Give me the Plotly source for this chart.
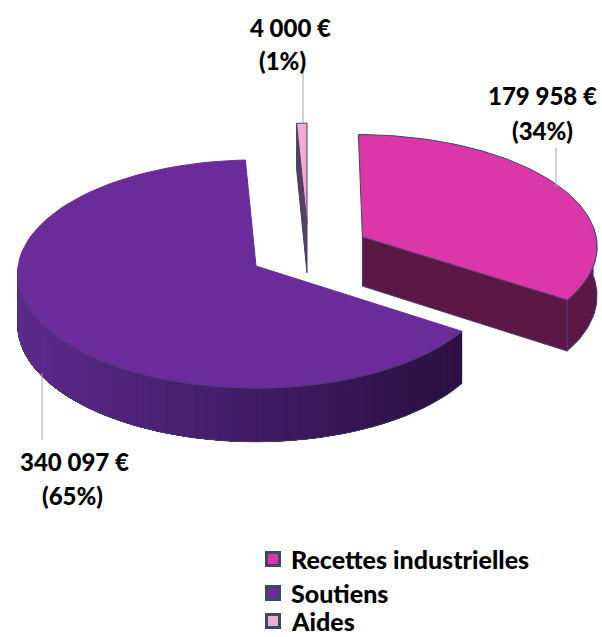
import numpy as np
import plotly.graph_objects as go

# ---- data ----
categories = ["Recettes industrielles", "Soutiens", "Aides"]
values = [179958, 340097, 4000]

# ---- style ----
top_colors = ["#DB37A8", "#6C2B9A", "#F5AAD2"]
face_colors = ["#5C1844", "#2A1040", "#54405F"]
edge_color = "#45406A"
leader_color = "#A6A6A6"
legend_edge = "#3A4A63"
FONT = "Lato, Carlito, Calibri, sans-serif"

W, H = 602, 637
VX, VY = 256, 266      # projection centre
A, B, K = 238, 113.5, 0.07
DEPTH = 50
# per slice: projection x, exploded offset in the pie plane
slice_vx = [300, 256, 307]
slice_off = [(0.267, -0.26), (0.0, 0.0), (0.0, -0.38)]
SILHOUETTE = np.deg2rad(266)  # left-most point of the projected rim

total = sum(values)
bounds = np.concatenate([[0], np.cumsum(values)]) / total * 2 * np.pi


def project(t, i, r=1.0, drop=0.0):
    ox, oy = slice_off[i]
    X = ox + r * np.sin(t)
    Y = oy - r * np.cos(t)
    s = 1 / (1 - K * Y)
    return slice_vx[i] + A * X * s, VY + B * Y * s + drop * s


def poly(xs, ys, fill, line=None, width=1):
    return go.Scatter(
        x=list(xs), y=list(ys), mode="lines", fill="toself", fillcolor=fill,
        line=dict(color=line or fill, width=width), hoverinfo="skip", showlegend=False,
    )


def mix(c1, c2, f):
    a = [int(c1[j:j + 2], 16) for j in (1, 3, 5)]
    b = [int(c2[j:j + 2], 16) for j in (1, 3, 5)]
    return "rgb(%d,%d,%d)" % tuple(round(p + (q - p) * f) for p, q in zip(a, b))


fig = go.Figure()


def arc(t0, t1, i, drop=0.0, n=80):
    return project(np.linspace(t0, t1, n), i, 1.0, drop)


def wall_segments(t0, t1, i, c_right, c_left, n):
    # bands of equal screen width, each painted from its edge to the far end
    # so that the next band overlaps it and no seam shows
    tt = np.linspace(t0, t1, 800)
    xx = project(tt, i)[0]
    grid = np.linspace(xx[0], xx[-1], n + 1)
    ts = np.interp(-grid, -xx, tt)
    for j in range(n):
        tx, ty = arc(ts[j], t1, i, 0, 50)
        bx, by = arc(ts[j], t1, i, DEPTH, 50)
        xs = np.concatenate([tx, bx[::-1]])
        ys = np.concatenate([ty, by[::-1]])
        fig.add_trace(poly(xs, ys, mix(c_right, c_left, j / (n - 1)), width=0))


# Soutiens: curved outer wall with a left-to-right shading
s0, s1 = bounds[1], bounds[2]
wall_segments(s0, SILHOUETTE, 1, face_colors[1], "#5A2A8C", 60)
bx, by = arc(s0, SILHOUETTE, 1, DEPTH)
fig.add_trace(go.Scatter(x=bx, y=by, mode="lines", line=dict(color=edge_color, width=0.8),
                         hoverinfo="skip", showlegend=False))
fx, fy = arc(s0, s1, 1)
ax, ay = project(np.array([0.0]), 1, 0.0)
fig.add_trace(poly(np.r_[ax, fx, ax], np.r_[ay, fy, ay], top_colors[1], top_colors[1], 1))
vx_, vy_ = arc(s0, SILHOUETTE, 1)
fig.add_trace(go.Scatter(x=vx_, y=vy_, mode="lines", line=dict(color=edge_color, width=1),
                         hoverinfo="skip", showlegend=False))

# Recettes: radial face, outer wall, top
r0, r1 = bounds[0], bounds[1]
ax, ay = project(np.array([0.0]), 0, 0.0)
ex, ey = project(np.array([r1]), 0)
ax2, ay2 = project(np.array([0.0]), 0, 0.0, DEPTH)
ex2, ey2 = project(np.array([r1]), 0, 1.0, DEPTH)
tx, ty = arc(np.deg2rad(85), r1, 0, 0, 30)
bx, by = arc(np.deg2rad(85), r1, 0, DEPTH, 30)
fig.add_trace(poly(np.r_[tx, bx[::-1]], np.r_[ty, by[::-1]], face_colors[0], edge_color, 1))
fig.add_trace(poly(np.r_[ax, ex, ex2, ax2, ax], np.r_[ay, ey, ey2, ay2, ay], face_colors[0], edge_color, 1))
fx, fy = arc(r0, r1, 0)
fig.add_trace(poly(np.r_[ax, fx, ax], np.r_[ay, fy, ay], top_colors[0], edge_color, 1))

# Aides: left radial face then top
a0, a1 = bounds[2], bounds[3]
ax, ay = project(np.array([0.0]), 2, 0.0)
lx, ly = project(np.array([a0]), 2)
ax2, ay2 = project(np.array([0.0]), 2, 0.0, DEPTH)
lx2, ly2 = project(np.array([a0]), 2, 1.0, DEPTH)
fig.add_trace(poly(np.r_[lx, ax, ax2, lx2, lx], np.r_[ly, ay, ay2, ly2, ly], face_colors[2], edge_color, 1))
fx, fy = arc(a0, a1, 2, 0, 8)
fig.add_trace(poly(np.r_[ax, fx, ax], np.r_[ay, fy, ay], top_colors[2], edge_color, 1))

# leader lines
leaders = [((556, 556), (148, 187)), ((42, 42), (373, 440)), ((303, 303), (72, 123))]
for lxs, lys in leaders:
    fig.add_trace(go.Scatter(x=lxs, y=lys, mode="lines", line=dict(color=leader_color, width=1),
                             hoverinfo="skip", showlegend=False))

# value labels
label_pos = [((542, 95), (542, 130)), ((74, 461), (72, 495)), ((290, 27), (282, 60))]
annots = []
for v, (p1, p2) in zip(values, label_pos):
    t1 = f"{v:,}".replace(",", " ") + " €"
    t2 = f"({round(v / total * 100)}%)"
    for txt, (x, y) in ((t1, p1), (t2, p2)):
        annots.append(dict(x=x, y=y, text=txt, showarrow=False, xref="x", yref="y",
                           font=dict(family=FONT, size=24, color="#000000", weight=900),
                           xanchor="center", yanchor="middle"))

# legend
legend_x = 273
legend_y = [559, 593, 621]
for name, col, ly_ in zip(categories, top_colors, legend_y):
    fig.add_trace(go.Scatter(
        x=[legend_x], y=[ly_], mode="markers", hoverinfo="skip", showlegend=False,
        marker=dict(symbol="square", size=13, color=col, line=dict(color=legend_edge, width=3)),
    ))
    annots.append(dict(x=legend_x + 16, y=ly_, text=name, showarrow=False, xref="x", yref="y",
                       font=dict(family=FONT, size=25, color="#000000", weight=900),
                       xanchor="left", yanchor="middle"))

fig.update_layout(
    width=W, height=H, margin=dict(l=0, r=0, t=0, b=0),
    paper_bgcolor="white", plot_bgcolor="white", showlegend=False, annotations=annots,
    xaxis=dict(range=[0, W], visible=False, fixedrange=True),
    yaxis=dict(range=[H, 0], visible=False, fixedrange=True),
)
fig.write_html("out.html", config={"displayModeBar": False},
               post_script="document.body.style.margin='0';document.documentElement.style.overflow='hidden';")
